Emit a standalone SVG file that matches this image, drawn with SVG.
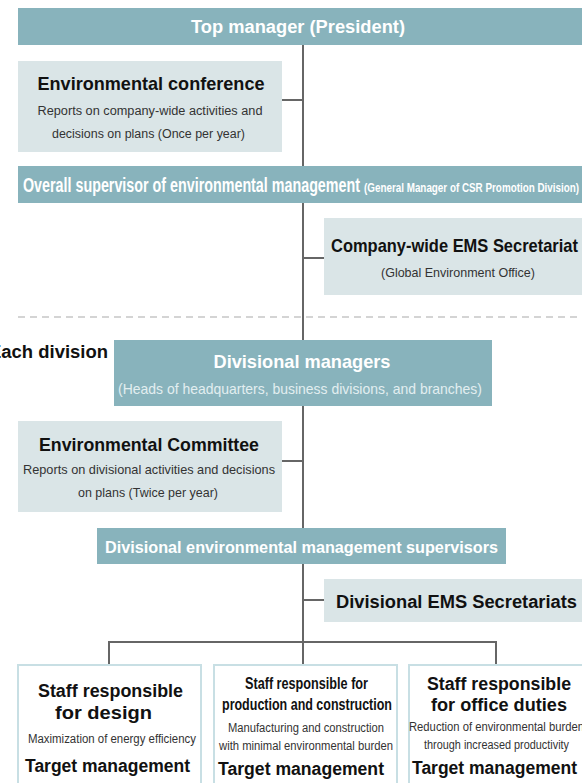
<svg xmlns="http://www.w3.org/2000/svg" width="582" height="783" viewBox="0 0 582 783">
  <style>
    .bar { fill: #88b3bc; }
    .pale { fill: #dae5e7; }
    .card { fill: #ffffff; stroke: #c8dfe4; stroke-width: 2; }
    .line { fill: none; stroke: #666666; stroke-width: 2; }
    .dash { fill: none; stroke: #c6c6c6; stroke-width: 1.5; stroke-dasharray: 7 5; }
    text { font-family: "Liberation Sans Narrow", "Liberation Sans", Arial, sans-serif; }
    .w { fill: #ffffff; font-weight: bold; }
    .lt { fill: #e2eef0; }
    .h { fill: #111111; font-weight: bold; }
    .s { fill: #333333; }
    .wide { font-family: "Liberation Sans", Arial, sans-serif; font-weight: bold; fill: #111111; }
    .c { text-anchor: middle; }
  </style>

  <!-- connectors -->
  <g id="connectors">
    <line class="dash" x1="18" y1="317" x2="582" y2="317"/>
    <line class="line" x1="303" y1="45" x2="303" y2="642"/>
    <line class="line" x1="282" y1="100" x2="303" y2="100"/>
    <line class="line" x1="303" y1="258" x2="324" y2="258"/>
    <line class="line" x1="282" y1="461" x2="303" y2="461"/>
    <line class="line" x1="303" y1="600" x2="324" y2="600"/>
    <path class="line" d="M109,665 V642 H496 V665 M303,642 V665"/>
  </g>

  <g id="top-manager">
    <rect class="bar" x="18" y="8" width="564" height="37"/>
    <text class="w c" x="298" y="33" font-size="18" textLength="214" lengthAdjust="spacingAndGlyphs">Top manager (President)</text>
  </g>

  <g id="environmental-conference">
    <rect class="pale" x="18" y="61" width="264" height="91"/>
    <text class="h c" x="151" y="90" font-size="19" textLength="227" lengthAdjust="spacingAndGlyphs">Environmental conference</text>
    <text class="s c" x="150" y="115" font-size="12.5" textLength="225" lengthAdjust="spacingAndGlyphs">Reports on company-wide activities and</text>
    <text class="s c" x="148.5" y="138" font-size="12.5" textLength="193" lengthAdjust="spacingAndGlyphs">decisions on plans (Once per year)</text>
  </g>

  <g id="overall-supervisor">
    <rect class="bar" x="18" y="166" width="564" height="37"/>
    <text class="w" x="23" y="192" font-size="20" textLength="337" lengthAdjust="spacingAndGlyphs">Overall supervisor of environmental management</text>
    <text class="w" x="364" y="192" font-size="12" textLength="215" lengthAdjust="spacingAndGlyphs">(General Manager of CSR Promotion Division)</text>
  </g>

  <g id="company-ems-secretariat">
    <rect class="pale" x="324" y="218" width="258" height="77"/>
    <text class="h" x="331" y="252" font-size="19" textLength="247" lengthAdjust="spacingAndGlyphs">Company-wide EMS Secretariat</text>
    <text class="s c" x="458" y="277" font-size="13" textLength="154" lengthAdjust="spacingAndGlyphs">(Global Environment Office)</text>
  </g>

  <g id="each-division">
    <text class="h" x="108" y="358" font-size="18" text-anchor="end" textLength="119" lengthAdjust="spacingAndGlyphs">Each division</text>
  </g>

  <g id="divisional-managers">
    <rect class="bar" x="114" y="340" width="378" height="66"/>
    <text class="w c" x="302" y="368" font-size="18.5" textLength="177" lengthAdjust="spacingAndGlyphs">Divisional managers</text>
    <text class="lt c" x="300" y="394" font-size="14.5" textLength="364" lengthAdjust="spacingAndGlyphs">(Heads of headquarters, business divisions, and branches)</text>
  </g>

  <g id="environmental-committee">
    <rect class="pale" x="18" y="421" width="264" height="91"/>
    <text class="h c" x="149" y="451" font-size="19" textLength="220" lengthAdjust="spacingAndGlyphs">Environmental Committee</text>
    <text class="s c" x="149" y="474" font-size="13" textLength="252" lengthAdjust="spacingAndGlyphs">Reports on divisional activities and decisions</text>
    <text class="s c" x="148" y="497" font-size="13" textLength="140" lengthAdjust="spacingAndGlyphs">on plans (Twice per year)</text>
  </g>

  <g id="divisional-supervisors">
    <rect class="bar" x="97" y="528" width="409" height="36"/>
    <text class="w" x="105" y="553" font-size="17" textLength="393" lengthAdjust="spacingAndGlyphs">Divisional environmental management supervisors</text>
  </g>

  <g id="divisional-ems-secretariats">
    <rect class="pale" x="324" y="579" width="258" height="43"/>
    <text class="h" x="336" y="608" font-size="18" textLength="241" lengthAdjust="spacingAndGlyphs">Divisional EMS Secretariats</text>
  </g>

  <g id="staff-design">
    <rect class="card" x="18" y="665" width="183" height="130"/>
    <text class="wide c" x="110.5" y="697" font-size="18" textLength="145" lengthAdjust="spacingAndGlyphs">Staff responsible</text>
    <text class="wide c" x="103.5" y="719" font-size="18" textLength="97" lengthAdjust="spacingAndGlyphs">for design</text>
    <text class="s c" x="112" y="743" font-size="12.5" textLength="168" lengthAdjust="spacingAndGlyphs">Maximization of energy efficiency</text>
    <text class="wide c" x="107.5" y="772" font-size="18" textLength="165" lengthAdjust="spacingAndGlyphs">Target management</text>
  </g>

  <g id="staff-production">
    <rect class="card" x="214" y="665" width="183" height="130"/>
    <text class="h c" x="306.5" y="689" font-size="16" textLength="123" lengthAdjust="spacingAndGlyphs">Staff responsible for</text>
    <text class="h c" x="307" y="710" font-size="16" textLength="170" lengthAdjust="spacingAndGlyphs">production and construction</text>
    <text class="s c" x="306" y="732" font-size="12.5" textLength="156" lengthAdjust="spacingAndGlyphs">Manufacturing and construction</text>
    <text class="s c" x="306" y="750" font-size="12.5" textLength="174" lengthAdjust="spacingAndGlyphs">with minimal environmental burden</text>
    <text class="wide c" x="301" y="775" font-size="18" textLength="166" lengthAdjust="spacingAndGlyphs">Target management</text>
  </g>

  <g id="staff-office">
    <rect class="card" x="409" y="665" width="185" height="130"/>
    <text class="wide c" x="499" y="690" font-size="18" textLength="144" lengthAdjust="spacingAndGlyphs">Staff responsible</text>
    <text class="wide c" x="499" y="711" font-size="18" textLength="136" lengthAdjust="spacingAndGlyphs">for office duties</text>
    <text class="s c" x="496.5" y="731" font-size="12.5" textLength="175" lengthAdjust="spacingAndGlyphs">Reduction of environmental burden</text>
    <text class="s c" x="496.5" y="749" font-size="12.5" textLength="145" lengthAdjust="spacingAndGlyphs">through increased productivity</text>
    <text class="wide c" x="494.5" y="774" font-size="18" textLength="165" lengthAdjust="spacingAndGlyphs">Target management</text>
  </g>
</svg>
